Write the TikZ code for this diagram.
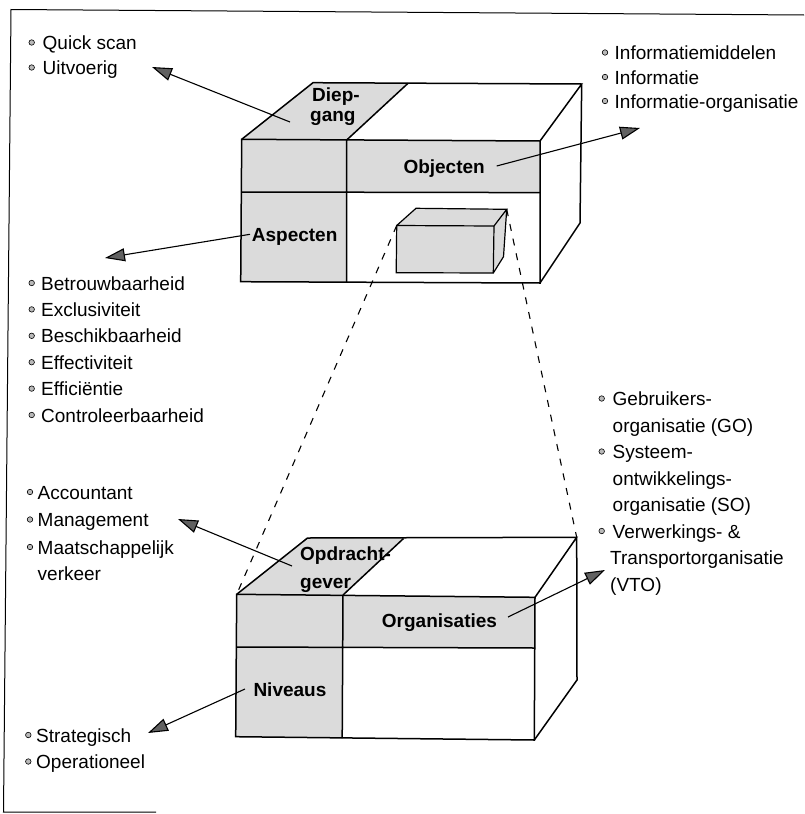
\documentclass[tikz,border=0pt]{standalone}
\usepackage{fontspec}
\setmainfont{Liberation Sans}
\usetikzlibrary{arrows.meta}

% one list line: bullet plus text (name, bullet x, text x, baseline y, text)
\newcommand\listline[5]{%
  \node[dot] (#1b) at (#2,#4-7) {};
  \node[lbl] (#1) at (#3,#4) {#5};}

\begin{document}
\begin{tikzpicture}[x=1pt,y=-1pt,
  edge/.style={line width=1.5pt, line join=miter},
  shade/.style={fill=gray!28},
  lbl/.style={anchor=base west, inner sep=0pt, font=\fontsize{19}{23}\selectfont},
  tag/.style={anchor=base west, inner sep=0pt, font=\fontsize{19}{23}\selectfont\bfseries},
  dot/.style={circle, draw, fill=gray!55, minimum size=5.5pt, inner sep=0pt, line width=0.6pt},
  pointer/.style={line width=1.1pt, -{Triangle[length=20pt,width=13pt,fill=black!62]}},
  sight/.style={line width=1.1pt, dash pattern=on 7pt off 8pt},
  frame/.style={line width=1pt}]

\useasboundingbox (0,0) rectangle (804,814);

% outer frame (open at the right and bottom)
\coordinate (fTL) at (11,9.5);
\coordinate (fTR) at (804,15);
\coordinate (fBL) at (3.5,812);
\coordinate (fBR) at (156,812);
\draw[frame] (fTR) -- (fTL) -- (fBL) -- (fBR);

% ---------- upper cube ----------
\coordinate (A) at (241.7,139.3); \coordinate (B) at (346.7,140);   \coordinate (C) at (540,141);
\coordinate (D) at (241.2,192);   \coordinate (E) at (346.7,192.3); \coordinate (F) at (540,192.6);
\coordinate (G) at (240.7,281.7); \coordinate (H) at (346.6,282.4); \coordinate (I) at (540,283);
\coordinate (P) at (313,82.7);    \coordinate (Q) at (408,83.3);    \coordinate (R) at (581.7,84);
\coordinate (S) at (580,223);

\fill[shade] (A) -- (B) -- (Q) -- (P) -- cycle;
\fill[shade] (A) -- (B) -- (H) -- (G) -- cycle;
\fill[shade] (B) -- (C) -- (F) -- (E) -- cycle;

% small cube inside the upper cube
\coordinate (a) at (396.7,225.5); \coordinate (b) at (494,226);
\coordinate (c) at (396.2,272.7); \coordinate (d) at (493.3,273);
\coordinate (e) at (416,208.3);   \coordinate (f) at (506.7,209.3);
\coordinate (g) at (503.5,256.7);
\fill[shade] (a) -- (b) -- (d) -- (c) -- cycle;
\fill[shade] (a) -- (e) -- (f) -- (b) -- cycle;
\fill[shade] (b) -- (f) -- (g) -- (d) -- cycle;
\draw[line width=1.2pt, line join=miter] (a) -- (b) -- (d) -- (c) -- cycle
  (a) -- (e) -- (f) -- (b) (f) -- (g) -- (d);

\draw[edge] (A) -- (C) -- (I) -- (G) -- cycle;
\draw[edge] (A) -- (P) -- (R) -- (C) (R) -- (S) -- (I);
\draw[edge] (B) -- (Q) (B) -- (H) (D) -- (F);

% ---------- lower cube ----------
\coordinate (A2) at (236.7,594.3); \coordinate (B2) at (343,595);    \coordinate (C2) at (535,597.3);
\coordinate (D2) at (236.3,647);   \coordinate (E2) at (342.7,647.3); \coordinate (F2) at (535,648);
\coordinate (G2) at (235.7,736.7); \coordinate (H2) at (342.2,738);   \coordinate (I2) at (534.3,740);
\coordinate (P2) at (307.5,538);   \coordinate (Q2) at (403.5,538.5); \coordinate (R2) at (576.7,537.3);
\coordinate (S2) at (577,680);

\fill[shade] (A2) -- (B2) -- (Q2) -- (P2) -- cycle;
\fill[shade] (A2) -- (B2) -- (H2) -- (G2) -- cycle;
\fill[shade] (B2) -- (C2) -- (F2) -- (E2) -- cycle;
\draw[edge] (A2) -- (C2) -- (I2) -- (G2) -- cycle;
\draw[edge] (A2) -- (P2) -- (R2) -- (C2) (R2) -- (S2) -- (I2);
\draw[edge] (B2) -- (Q2) (B2) -- (H2) (D2) -- (F2);

% lines of sight from the small cube to the lower cube
\draw[sight] (a) -- (A2);
\draw[sight] (f) -- (R2);

% ---------- labels on the cubes ----------
\node[tag] (diep) at (312,101.7) {Diep-};
\node[tag] (gang) at (310,121.7) {gang};
\node[tag] (obj)  at (403.3,173.3) {Objecten};
\node[tag] (asp)  at (251.7,241.7) {Aspecten};
\node[tag] (opd)  at (300,560) {Opdracht-};
\node[tag] (gev)  at (300,588.3) {gever};
\node[tag] (org)  at (381.7,627.3) {Organisaties};
\node[tag] (niv)  at (253.3,696.7) {Niveaus};

% ---------- lists ----------
\listline{qs}{31.7}{42.5}{49.5}{Quick scan}
\listline{uv}{31.7}{42.5}{74.5}{Uitvoerig}

\listline{im}{605}{614.5}{59.5}{Informatiemiddelen}
\listline{inf}{605}{614.5}{84}{Informatie}
\listline{io}{605}{614.5}{108}{Informatie-organisatie}

\listline{bet}{31.7}{41}{290}{Betrouwbaarheid}
\listline{exc}{31.7}{41}{316.4}{Exclusiviteit}
\listline{bes}{31.7}{41}{342.8}{Beschikbaarheid}
\listline{eft}{31.7}{41}{369.2}{Effectiviteit}
\listline{efc}{31.7}{41}{395.6}{Efficiëntie}
\listline{con}{31.7}{41}{422}{Controleerbaarheid}

\listline{acc}{30}{37.5}{499}{Accountant}
\listline{man}{30}{37.5}{526.5}{Management}
\listline{maa}{30}{37.5}{554}{Maatschappelijk}
\node[lbl] (ver) at (37.5,580) {verkeer};

\listline{str}{28.3}{36}{742}{Strategisch}
\listline{ope}{28.3}{36}{768.5}{Operationeel}

\listline{geb}{601.7}{612.5}{405.5}{Gebruikers-}
\node[lbl] (go) at (612.5,432) {organisatie (GO)};
\listline{sys}{601.7}{612.5}{458.5}{Systeem-}
\node[lbl] (ont) at (612.5,485) {ontwikkelings-};
\node[lbl] (so) at (612.5,511.5) {organisatie (SO)};
\listline{vw}{601.7}{612.5}{538}{Verwerkings- \&}
\node[lbl] (tr) at (610,564.5) {Transportorganisatie};
\node[lbl] (vto) at (610,591) {(VTO)};

% ---------- pointers from the cube faces to their lists ----------
\coordinate (p1s) at (290,122);   \coordinate (p1e) at (152,67);
\coordinate (p2s) at (496.7,166); \coordinate (p2e) at (640,128);
\coordinate (p3s) at (250,234.3); \coordinate (p3e) at (105,258);
\coordinate (p4s) at (292,566);   \coordinate (p4e) at (178,519);
\coordinate (p5s) at (508,617);   \coordinate (p5e) at (605,570);
\coordinate (p6s) at (245,689);   \coordinate (p6e) at (148,733);
\draw[pointer] (p1s) -- (p1e);
\draw[pointer] (p2s) -- (p2e);
\draw[pointer] (p3s) -- (p3e);
\draw[pointer] (p4s) -- (p4e);
\draw[pointer] (p5s) -- (p5e);
\draw[pointer] (p6s) -- (p6e);
\end{tikzpicture}
\end{document}
